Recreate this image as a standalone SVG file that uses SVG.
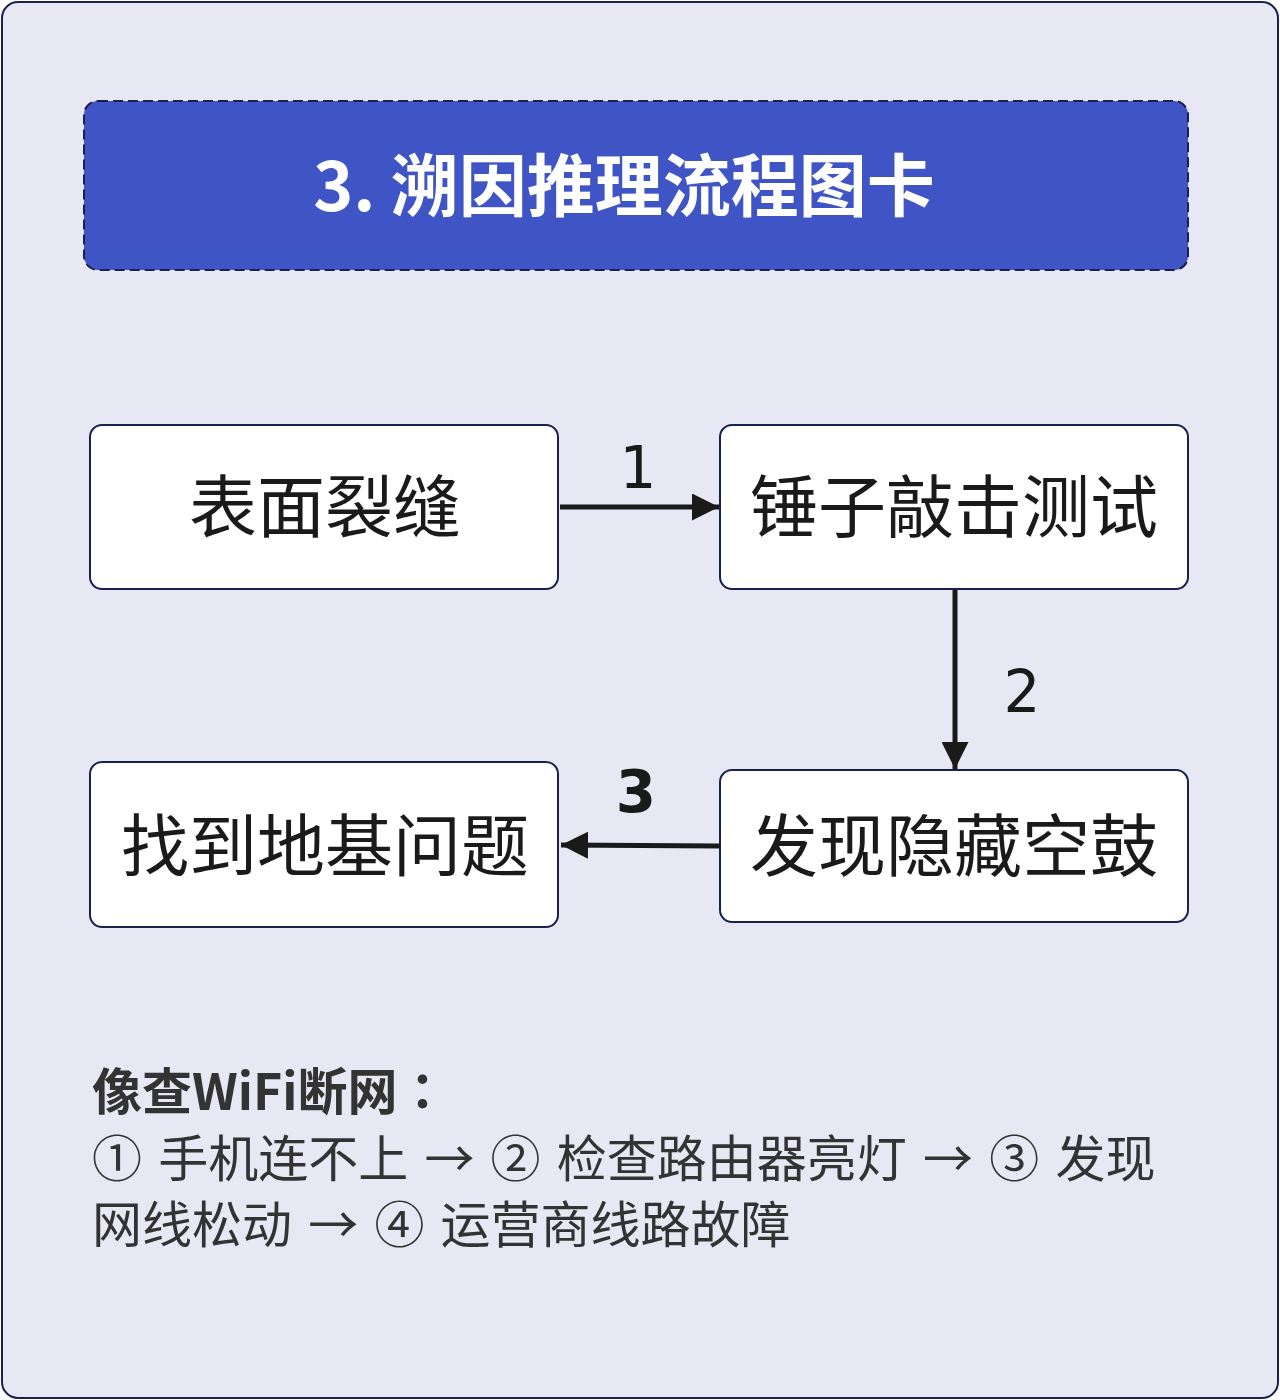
<svg xmlns="http://www.w3.org/2000/svg" width="1280" height="1400" viewBox="0 0 1280 1400">
<defs>
<style>
.cjk{font-family:"Noto Sans CJK SC","Noto Sans",sans-serif;}
.dv{font-family:"DejaVu Sans","Noto Sans CJK SC",sans-serif;}
.node rect{fill:#ffffff;stroke:#1a2050;stroke-width:2;}
.node text{font-size:68px;fill:#1a1a1a;text-anchor:middle;}
.edge{stroke:#1a1a1a;stroke-width:5;fill:none;}
.elabel{font-size:58px;fill:#1a1a1a;text-anchor:middle;}
.note{font-size:50px;fill:#333333;word-spacing:5px;}
</style>
<marker id="arr" viewBox="0 0 10 10" refX="10" refY="5" markerWidth="5.4" markerHeight="5.4" orient="auto" markerUnits="strokeWidth">
<path d="M0,0 L10,5 L0,10 Z" fill="#1a1a1a"/>
</marker>
</defs>
<rect x="2" y="2" width="1276" height="1396" rx="16" fill="#e8e8f4" stroke="#1a2050" stroke-width="2"/>
<g id="title">
<rect x="84" y="101" width="1104" height="169" rx="14" fill="#4055c5" stroke="#1a2050" stroke-width="2" stroke-dasharray="10 5"/>
<text class="cjk" x="624" y="211" font-size="68" font-weight="bold" fill="#ffffff" text-anchor="middle">3. 溯因推理流程图卡</text>
</g>
<g id="n1" class="node cjk">
<rect x="90" y="425" width="468" height="164" rx="12"/>
<text x="325" y="532">表面裂缝</text>
</g>
<g id="n2" class="node cjk">
<rect x="720" y="425" width="468" height="164" rx="12"/>
<text x="954" y="532">锤子敲击测试</text>
</g>
<g id="n3" class="node cjk">
<rect x="720" y="770" width="468" height="152" rx="12"/>
<text x="954" y="871">发现隐藏空鼓</text>
</g>
<g id="n4" class="node cjk">
<rect x="90" y="762" width="468" height="165" rx="12"/>
<text x="325" y="871">找到地基问题</text>
</g>
<g id="edges">
<line class="edge" x1="560" y1="507" x2="719" y2="507" marker-end="url(#arr)"/>
<text class="elabel dv" x="638" y="488">1</text>
<line class="edge" x1="955" y1="590" x2="955" y2="769" marker-end="url(#arr)"/>
<text class="elabel dv" x="1022" y="712">2</text>
<line class="edge" x1="720" y1="846" x2="561" y2="845" marker-end="url(#arr)"/>
<text class="elabel dv" x="636" y="812" font-weight="bold">3</text>
</g>
<g id="notes" class="cjk">
<text x="92" y="1110" font-size="50" font-weight="bold" fill="#333333">像查WiFi断网<tspan font-family="Noto Sans CJK JP, sans-serif">：</tspan></text>
<text class="note" x="92" y="1177">① 手机连不上 → ② 检查路由器亮灯 → ③ 发现</text>
<text class="note" x="92" y="1243">网线松动 → ④ 运营商线路故障</text>
</g>
</svg>
